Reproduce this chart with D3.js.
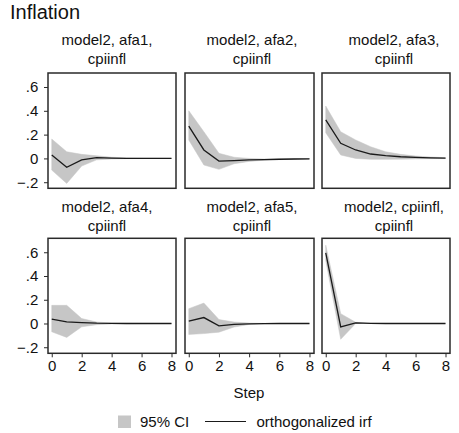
<!DOCTYPE html>
<html>
<head>
<meta charset="utf-8">
<script src="https://cdn.jsdelivr.net/npm/d3@7/dist/d3.min.js"></script>
<style>
  html, body { margin: 0; padding: 0; background: #fff; }
  svg { display: block; font-family: "Liberation Sans", Arial, Helvetica, sans-serif; }
</style>
</head>
<body>
<svg id="chart" width="459" height="433"></svg>
<script>
// ---------- data ----------
const steps = [0, 1, 2, 3, 4, 5, 6, 7, 8];
const panelTitles = [
  ["model2, afa1,", "cpiinfl"],
  ["model2, afa2,", "cpiinfl"],
  ["model2, afa3,", "cpiinfl"],
  ["model2, afa4,", "cpiinfl"],
  ["model2, afa5,", "cpiinfl"],
  ["model2, cpiinfl,", "cpiinfl"]
];
const irf_afa1 = [0.029, -0.075, -0.013, 0.006, 0.003, 0.001, 0, 0, 0];
const lo_afa1  = [-0.098, -0.21, -0.064, -0.012, -0.005, -0.002, -0.001, 0, 0];
const hi_afa1  = [0.163, 0.056, 0.034, 0.022, 0.010, 0.004, 0.002, 0.001, 0];

const irf_afa2 = [0.272, 0.071, -0.022, -0.018, -0.013, -0.010, -0.007, -0.005, -0.004];
const lo_afa2  = [0.155, -0.055, -0.092, -0.045, -0.025, -0.015, -0.010, -0.007, -0.005];
const hi_afa2  = [0.40, 0.224, 0.043, 0.010, 0.0, -0.004, -0.004, -0.004, -0.003];

const irf_afa3 = [0.323, 0.127, 0.071, 0.037, 0.023, 0.014, 0.008, 0.004, 0.002];
const lo_afa3  = [0.216, 0.029, 0.0, -0.008, -0.008, -0.006, -0.004, -0.002, -0.001];
const hi_afa3  = [0.44, 0.224, 0.155, 0.098, 0.056, 0.034, 0.02, 0.012, 0.006];

const irf_afa4 = [0.036, 0.014, 0.008, 0.003, 0.001, 0, 0, 0, 0];
const lo_afa4  = [-0.07, -0.117, -0.028, -0.01, -0.004, -0.002, -0.001, 0, 0];
const hi_afa4  = [0.153, 0.153, 0.042, 0.012, 0.004, 0.002, 0.001, 0, 0];

const irf_afa5 = [0.019, 0.05, -0.02, -0.008, -0.003, -0.001, 0, 0, 0];
const lo_afa5  = [-0.092, -0.085, -0.073, -0.03, -0.008, -0.003, -0.001, 0, 0];
const hi_afa5  = [0.125, 0.172, 0.033, 0.012, 0.004, 0.001, 0, 0, 0];

const irf_cpi  = [0.594, -0.028, 0.005, 0.001, 0, 0, 0, 0, 0];
const lo_cpi   = [0.53, -0.133, 0.0, 0, 0, 0, 0, 0, 0];
const hi_cpi   = [0.66, 0.083, 0.01, 0.002, 0, 0, 0, 0, 0];

const yTicks = [-0.2, 0, 0.2, 0.4, 0.6];
const xTicks = [0, 2, 4, 6, 8];
const chartTitle = "Inflation";
const xTitle = "Step";
const legendLabels = ["95% CI", "orthogonalized irf"];

// ---------- layout ----------
const panels = [
  {irf: irf_afa1, lo: lo_afa1, hi: hi_afa1},
  {irf: irf_afa2, lo: lo_afa2, hi: hi_afa2},
  {irf: irf_afa3, lo: lo_afa3, hi: hi_afa3},
  {irf: irf_afa4, lo: lo_afa4, hi: hi_afa4},
  {irf: irf_afa5, lo: lo_afa5, hi: hi_afa5},
  {irf: irf_cpi,  lo: lo_cpi,  hi: hi_cpi}
];
const colX = [[48, 176], [185, 314], [322, 450]];
const rowY = [[73, 188.3], [238.3, 353.3]];
const titleCX = [107, 252, 394];
const titleBase = [[45, 64], [211.5, 230.5]];

const BAND = "#c6c6c6";
const LINE = "#1a1a1a";
const FRAME = "#2a2a2a";
const FS = 15;

const svg = d3.select("#chart");

svg.append("text").attr("x", 10).attr("y", 19)
  .attr("font-size", 20).attr("fill", "#111").text(chartTitle);

const fmtY = d => d === 0 ? "0" : (d < 0 ? "\u2212" : "") + String(Math.abs(d)).replace(/^0/, "");

panels.forEach((p, i) => {
  const c = i % 3, r = Math.floor(i / 3);
  const [x0, x1] = colX[c], [y0, y1] = rowY[r];
  const x = d3.scaleLinear().domain([-0.25, 8.3]).range([x0, x1]);
  const y = d3.scaleLinear().domain([-0.251, 0.7176]).range([y1, y0]);
  const g = svg.append("g");

  const data = steps.map((s, k) => ({s, irf: p.irf[k], lo: p.lo[k], hi: p.hi[k]}));

  g.append("path").datum(data)
    .attr("d", d3.area().x(d => x(d.s)).y0(d => y(d.lo)).y1(d => y(d.hi)))
    .attr("fill", BAND).attr("stroke", BAND).attr("stroke-width", 0.5);

  g.append("path").datum(data)
    .attr("d", d3.line().x(d => x(d.s)).y(d => y(d.irf)))
    .attr("fill", "none").attr("stroke", LINE).attr("stroke-width", 1.3);

  g.append("rect").attr("x", x0).attr("y", y0)
    .attr("width", x1 - x0).attr("height", y1 - y0)
    .attr("fill", "none").attr("stroke", FRAME).attr("stroke-width", 1.5);

  // panel titles
  panelTitles[i].forEach((t, li) => {
    svg.append("text").attr("x", titleCX[c]).attr("y", titleBase[r][li])
      .attr("text-anchor", "middle").attr("font-size", FS).attr("fill", "#111").text(t);
  });

  if (c === 0) {
    const ax = svg.append("g").attr("transform", `translate(${x0},0)`)
      .call(d3.axisLeft(y).tickValues(yTicks).tickFormat(fmtY).tickSize(4).tickPadding(5.7));
    ax.select(".domain").remove();
    ax.selectAll("line").attr("stroke", FRAME);
    ax.selectAll("text").attr("font-size", FS).attr("fill", "#111")
      .attr("font-family", "Liberation Sans, Arial, sans-serif");
  }
  if (r === 1) {
    const ax = svg.append("g").attr("transform", `translate(0,${y1})`)
      .call(d3.axisBottom(x).tickValues(xTicks).tickFormat(d3.format("d")).tickSize(4).tickPadding(3.4));
    ax.select(".domain").remove();
    ax.selectAll("line").attr("stroke", FRAME);
    ax.selectAll("text").attr("font-size", FS).attr("fill", "#111")
      .attr("font-family", "Liberation Sans, Arial, sans-serif");
  }
});

// x title
svg.append("text").attr("x", 249).attr("y", 398)
  .attr("text-anchor", "middle").attr("font-size", FS).attr("fill", "#111").text(xTitle);

// legend
svg.append("rect").attr("x", 118).attr("y", 415.5).attr("width", 13).attr("height", 12.5).attr("fill", BAND);
svg.append("text").attr("x", 140).attr("y", 426.5).attr("font-size", FS).attr("fill", "#111").text(legendLabels[0]);
svg.append("line").attr("x1", 205).attr("x2", 246).attr("y1", 421.5).attr("y2", 421.5)
  .attr("stroke", LINE).attr("stroke-width", 1.2);
svg.append("text").attr("x", 256.5).attr("y", 426.5).attr("font-size", FS).attr("fill", "#111").text(legendLabels[1]);
</script>
</body>
</html>
